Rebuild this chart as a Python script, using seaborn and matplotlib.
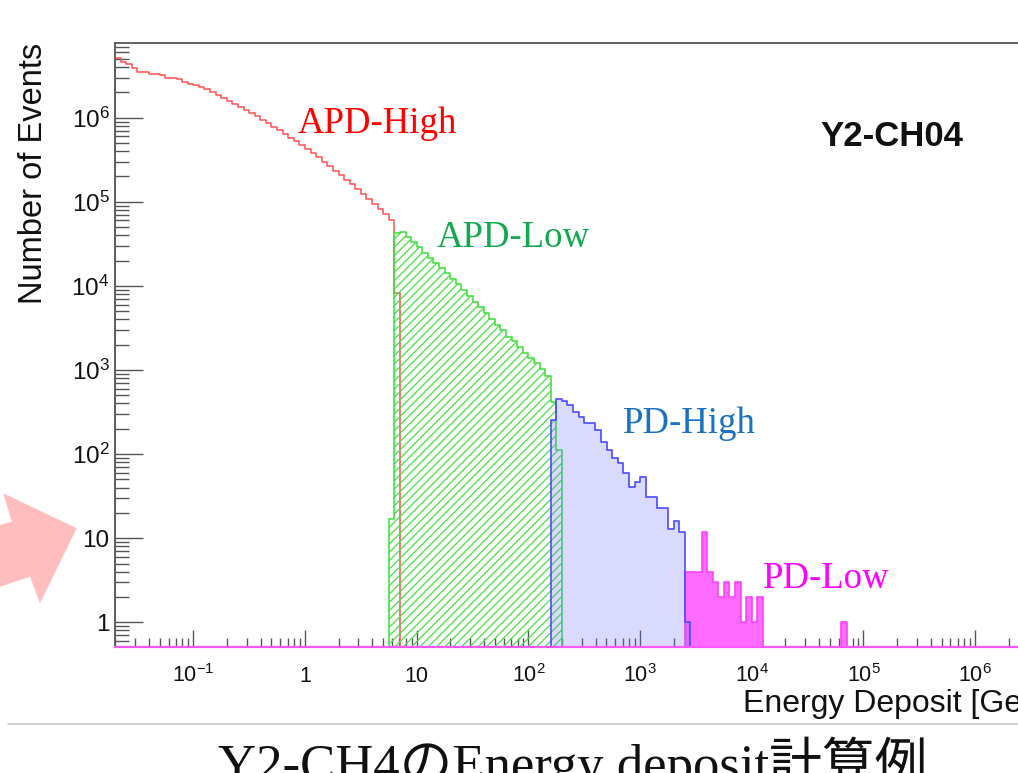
import numpy as np
import pandas as pd
import seaborn as sns
import matplotlib
matplotlib.use("Agg")
import matplotlib.pyplot as plt
from matplotlib.patches import Polygon
from matplotlib.lines import Line2D
from matplotlib.ticker import FixedLocator, FixedFormatter, LogLocator, NullFormatter

# ---------------- data ----------------
# uniform binning in log10(E / GeV), 20 bins per decade
log_bin_width = 0.05
x_log_range = (-1.70, 7.0)
y_range = (0.5085, 7.73e6)

apd_high_first_edge = -1.70
apd_high_counts = [5.08e6, 4.63e6, 4.35e6, 3.90e6, 3.52e6, 3.52e6, 3.28e6, 3.28e6, 3.20e6, 2.94e6,
                   2.94e6, 2.89e6, 2.68e6, 2.55e6, 2.42e6, 2.30e6, 2.19e6, 2.02e6, 1.86e6, 1.72e6,
                   1.58e6, 1.46e6, 1.34e6, 1.24e6, 1.14e6, 1.05e6, 9.4e5, 8.65e5, 7.76e5, 7.15e5,
                   6.41e5, 5.74e5, 5.29e5, 4.74e5, 4.25e5, 3.81e5, 3.41e5, 2.98e5, 2.67e5, 2.33e5,
                   2.09e5, 1.82e5, 1.63e5, 1.43e5, 1.24e5, 1.08e5, 9.45e4, 8.24e4, 7.19e4, 6.11e4,
                   8.3e3]

apd_low_first_edge = 0.75
apd_low_counts = [17, 42000, 44000, 38500, 33500, 29000, 24500, 21300, 18600, 16200, 14100,
                  12000, 10500, 8900, 7600, 6500, 5600, 4700, 4000, 3400, 3000,
                  2500, 2200, 1900, 1580, 1380, 1200, 1020, 850, 420, 112]

pd_high_first_edge = 2.20
pd_high_counts = [254, 449, 430, 384, 319, 278, 234, 234, 194, 140, 112, 89, 78, 59, 41,
                  47, 54, 31, 31, 23, 23, 13, 16, 12, 1]

pd_low_first_edge = 3.40
pd_low_counts = [4, 4, 4, 12, 4, 3, 2, 3, 2, 3, 1, 2, 1, 2,
                 0, 0, 0, 0, 0, 0, 0, 0, 0, 0, 0, 0, 0, 0, 1]

series_labels = ["APD-High", "APD-Low", "PD-High", "PD-Low"]
label_pos = [(0.866, 6.58e5), (15.1, 2.92e4), (708, 178), (12590, 2.56)]
label_colors = ["#ff0000", "#12a84e", "#1a72c0", "#ff00ff"]
channel_label = "Y2-CH04"
x_title = "Energy Deposit [GeV]"
y_title = "Number of Events"
slide_title = "Y2-CH4のEnergy deposit計算例"

x_major = [0.1, 1, 10, 1e2, 1e3, 1e4, 1e5, 1e6]
x_major_labels = [r"$10^{-1}$", "1", "10", r"$10^{2}$", r"$10^{3}$", r"$10^{4}$", r"$10^{5}$", r"$10^{6}$"]
y_major = [1, 10, 1e2, 1e3, 1e4, 1e5, 1e6]
y_major_labels = ["1", "10", r"$10^{2}$", r"$10^{3}$", r"$10^{4}$", r"$10^{5}$", r"$10^{6}$"]

# ---------------- style ----------------
sns.set_theme(style="white")
plt.rcParams["font.family"] = ["Liberation Sans", "DejaVu Sans"]
plt.rcParams["mathtext.default"] = "regular"
plt.rcParams["hatch.linewidth"] = 0.9

W, H = 1018, 773
fig = plt.figure(figsize=(W / 100, H / 100), dpi=100)
fig.patch.set_facecolor("white")

x0, x1 = 115.1, 1086.9
y0, y1 = 43, 647
ax = fig.add_axes([x0 / W, 1 - y1 / H, (x1 - x0) / W, (y1 - y0) / H])
ax.set_facecolor("white")


def draw_hist(first_edge, counts, line_color, **kw):
    n = len(counts)
    edges = first_edge + log_bin_width * np.arange(n + 1)
    centers = 10 ** (edges[:-1] + log_bin_width / 2)
    df = pd.DataFrame({"energy": centers, "events": counts})
    sns.histplot(data=df, x="energy", weights="events", bins=[float(e) for e in edges],
                 element="step", fill=True, log_scale=(True, True), ax=ax,
                 color=line_color, edgecolor=line_color, **kw)


draw_hist(pd_low_first_edge, pd_low_counts, "#ff40ff", facecolor="#ff6bff", linewidth=1.2)
draw_hist(apd_high_first_edge, apd_high_counts, "#ff5050", facecolor=(1, 1, 1, 0), linewidth=1.1)
draw_hist(apd_low_first_edge, apd_low_counts, "#45e045", facecolor=(1, 1, 1, 0), hatch="////",
          linewidth=1.2)
draw_hist(pd_high_first_edge, pd_high_counts, "#4a4aff", facecolor=(0.45, 0.45, 1.0, 0.26),
          linewidth=1.2)

ax.set_xscale("log")
ax.set_yscale("log")
ax.set_xlim(10 ** x_log_range[0], 10 ** x_log_range[1])
ax.set_ylim(*y_range)

ax.xaxis.set_major_locator(FixedLocator(x_major))
ax.xaxis.set_major_formatter(FixedFormatter(x_major_labels))
ax.xaxis.set_minor_locator(LogLocator(base=10, subs=np.arange(2, 10), numticks=30))
ax.xaxis.set_minor_formatter(NullFormatter())
ax.yaxis.set_major_locator(FixedLocator(y_major))
ax.yaxis.set_major_formatter(FixedFormatter(y_major_labels))
ax.yaxis.set_minor_locator(LogLocator(base=10, subs=np.arange(2, 10), numticks=30))
ax.yaxis.set_minor_formatter(NullFormatter())

tick_c = "#555555"
ax.tick_params(axis="y", which="major", direction="in", length=20, width=1.0, color=tick_c,
               labelsize=17.5, pad=4, labelcolor="#111111", left=True, right=False)
ax.tick_params(axis="y", which="minor", direction="in", length=10, width=1.0, color=tick_c,
               left=True, right=False)
ax.tick_params(axis="x", which="major", direction="in", length=12, width=1.0, color=tick_c,
               labelsize=15.5, pad=25, labelcolor="#111111", bottom=True, top=False)
ax.tick_params(axis="x", which="minor", direction="in", length=6.5, width=1.0, color=tick_c,
               bottom=True, top=False)
for lbl in ax.get_xticklabels():
    lbl.set_va("baseline")

for side in ["left", "top"]:
    ax.spines[side].set_color("#555555")
    ax.spines[side].set_linewidth(1.3)
ax.spines["right"].set_visible(False)
ax.spines["bottom"].set_color("#ff55ff")
ax.spines["bottom"].set_linewidth(1.6)
ax.grid(False)

ax.set_xlabel(x_title, loc="left", fontsize=23, color="#111111", va="baseline")
ax.xaxis.set_label_coords((743 - x0) / (x1 - x0), (y1 - 712) / (y1 - y0))
ax.set_ylabel(y_title, loc="top", fontsize=23.5, color="#111111")
ax.yaxis.set_label_coords((49 - x0) / (x1 - x0), 1.0)

for txt, (xv, yv), c in zip(series_labels, label_pos, label_colors):
    ax.text(xv, yv, txt, color=c, fontsize=26.5, family=["Liberation Serif"], ha="left", va="baseline")

ax.text((820 - x0) / (x1 - x0), (y1 - 146) / (y1 - y0), channel_label, transform=ax.transAxes,
        fontsize=25, fontweight="bold", color="#111111", ha="left", va="baseline")

# ---------------- slide decorations ----------------
arrow_px = [(0, 525), (11.7, 521.7), (3.3, 493.3), (76.7, 528.3), (40, 603.3), (30, 576.7), (0, 586.7)]
fig.patches.append(Polygon([(px / W, 1 - py / H) for px, py in arrow_px], closed=True,
                           transform=fig.transFigure, facecolor="#ffbdbd", edgecolor="none"))
fig.lines.append(Line2D([8 / W, 1.0], [1 - 724 / H, 1 - 724 / H], transform=fig.transFigure,
                        color="#c8c8c8", linewidth=1.2))
fig.text(218 / W, 1 - 781 / H, slide_title, fontsize=38, color="#111111",
         family=["Liberation Serif", "Noto Sans CJK JP"], ha="left", va="baseline")

fig.savefig("out.png", dpi=100)
